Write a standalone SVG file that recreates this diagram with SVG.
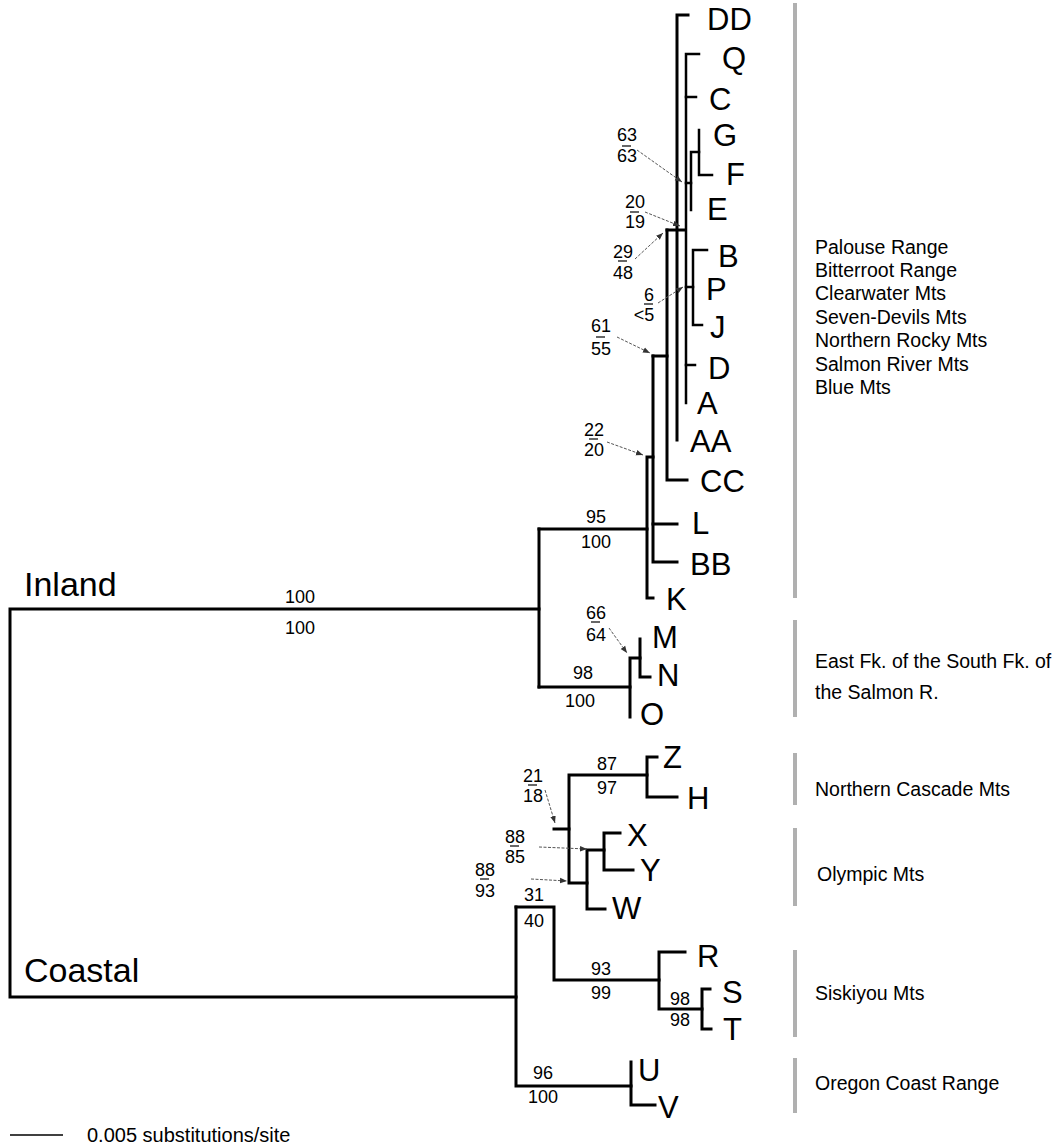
<svg xmlns="http://www.w3.org/2000/svg" width="1057" height="1147" viewBox="0 0 1057 1147">
<defs>
<style>
.br{stroke:#000;stroke-width:3;fill:none;stroke-linecap:square}
.fn{stroke-width:2.5}
.t{font-family:"Liberation Sans",Arial,sans-serif;fill:#000}
.lf{font-size:31px}
.big{font-size:34px}
.bs{font-size:18px;text-anchor:middle}
.rg{font-size:19.5px}
.fb{stroke:#000;stroke-width:1.2}
.ar{stroke:#555;stroke-width:1;stroke-dasharray:3 1.5;fill:none;marker-end:url(#ah)}
.gb{fill:#b0b0b0}
</style>
<marker id="ah" viewBox="0 0 10 10" refX="10" refY="5" markerWidth="7" markerHeight="7" markerUnits="userSpaceOnUse" orient="auto">
<path d="M0,1 L10,5 L0,9 z" fill="#333"/>
</marker>
</defs>
<rect width="1057" height="1147" fill="#fff"/>

<g id="connectors">
<path class="br" d="M539,609 H10 V997 H516"/>
<path class="br" d="M539,529 V687"/>
<path class="br" d="M539,529 H647"/>
<path class="br" d="M539,687 H630"/>
<path class="br" d="M653,457 H647 V598 H653"/>
<path class="br" d="M653,356 V562 H677"/>
<path class="br" d="M653,524 H677"/>
<path class="br" d="M653,356 H667"/>
<path class="br" d="M667,230 V480 H687"/>
<path class="br" d="M667,230 H685"/>
<path class="br" d="M688,15 H677 V440"/>
<path class="br fn" d="M699,54 H686 V403"/>
<path class="br fn" d="M686,97 H696"/>
<path class="br fn" d="M686,365 H695"/>
<path class="br fn" d="M686,287 H693"/>
<path class="br fn" d="M707,250 H693 V325 H702"/>
<path class="br fn" d="M686,183 H691"/>
<path class="br fn" d="M691,210 V152 H699"/>
<path class="br fn" d="M699,130 V175 H712"/>
<path class="br" d="M630,717 V658 H640"/>
<path class="br" d="M640,639 V677 H650"/>
<path class="br" d="M516,907 V1086 H631"/>
<path class="br" d="M516,907 H554 V980 H659"/>
<path class="br" d="M554,829 H569"/>
<path class="br" d="M647,775 H569 V883 H587"/>
<path class="br" d="M657,757 H647 V797 H677"/>
<path class="br" d="M604,850 H587 V909 H605"/>
<path class="br" d="M620,833 H604 V870 H633"/>
<path class="br" d="M685,952 H659 V1009 H702"/>
<path class="br" d="M710,989 H702 V1029 H711"/>
<path class="br" d="M631,1062 V1105 H655"/>
<line class="ar" x1="637" y1="150" x2="682" y2="182"/>
<line class="ar" x1="645" y1="212" x2="680" y2="226"/>
<line class="ar" x1="635" y1="259" x2="663" y2="233"/>
<line class="ar" x1="658" y1="303" x2="683" y2="287"/>
<line class="ar" x1="617" y1="337" x2="650" y2="353"/>
<line class="ar" x1="607" y1="442" x2="643" y2="455"/>
<line class="ar" x1="609" y1="628" x2="627" y2="653"/>
<line class="ar" x1="545" y1="790" x2="555" y2="823"/>
<line class="ar" x1="539" y1="847" x2="587" y2="849"/>
<line class="ar" x1="531" y1="879" x2="567" y2="881"/>
</g>

<g id="leaves" class="t lf">
<g id="leaf-DD"><text x="707" y="30">DD</text></g>
<g id="leaf-Q"><text x="722" y="69">Q</text></g>
<g id="leaf-C"><text x="709" y="110">C</text></g>
<g id="leaf-G"><text x="713" y="146">G</text></g>
<g id="leaf-F"><text x="726" y="185">F</text></g>
<g id="leaf-E"><text x="707" y="220">E</text></g>
<g id="leaf-B"><text x="718" y="267">B</text></g>
<g id="leaf-P"><text x="706" y="300">P</text></g>
<g id="leaf-J"><text x="710" y="338">J</text></g>
<g id="leaf-D"><text x="708" y="379">D</text></g>
<g id="leaf-A"><text x="697" y="414">A</text></g>
<g id="leaf-AA"><text x="690" y="452">AA</text></g>
<g id="leaf-CC"><text x="700" y="492">CC</text></g>
<g id="leaf-L"><text x="692" y="534">L</text></g>
<g id="leaf-BB"><text x="690" y="575">BB</text></g>
<g id="leaf-K"><text x="666" y="610">K</text></g>
<g id="leaf-M"><text x="652" y="648">M</text></g>
<g id="leaf-N"><text x="657" y="686">N</text></g>
<g id="leaf-O"><text x="640" y="725">O</text></g>
<g id="leaf-Z"><text x="663" y="768">Z</text></g>
<g id="leaf-H"><text x="687" y="809">H</text></g>
<g id="leaf-X"><text x="627" y="846">X</text></g>
<g id="leaf-Y"><text x="640" y="881">Y</text></g>
<g id="leaf-W"><text x="612" y="919">W</text></g>
<g id="leaf-R"><text x="697" y="967">R</text></g>
<g id="leaf-S"><text x="722" y="1003">S</text></g>
<g id="leaf-T"><text x="723" y="1040">T</text></g>
<g id="leaf-U"><text x="638" y="1081">U</text></g>
<g id="leaf-V"><text x="658" y="1118">V</text></g>
</g>

<g id="clade-names" class="t big">
<text x="24" y="596">Inland</text>
<text x="24" y="982">Coastal</text>
</g>

<g id="support" class="t bs">
<text x="300" y="603">100</text><text x="300" y="634">100</text>
<text x="596" y="523">95</text><text x="596" y="548">100</text>
<text x="583" y="679">98</text><text x="580" y="707">100</text>
<text x="607" y="770">87</text><text x="607" y="794">97</text>
<text x="534" y="901">31</text><text x="534" y="927">40</text>
<text x="601" y="975">93</text><text x="601" y="999">99</text>
<text x="680" y="1005">98</text><text x="680" y="1026">98</text>
<text x="543" y="1079">96</text><text x="543" y="1103">100</text>
</g>

<g id="fractions" class="t bs">
<g id="f63"><text x="627" y="141">63</text><line class="fb" x1="622" y1="146" x2="631" y2="146"/><text x="627" y="162">63</text></g>
<g id="f20"><text x="635" y="208">20</text><line class="fb" x1="630" y1="212" x2="639" y2="212"/><text x="635" y="228">19</text></g>
<g id="f29"><text x="623" y="258">29</text><line class="fb" x1="618" y1="261" x2="627" y2="261"/><text x="623" y="279">48</text></g>
<g id="f6"><text x="649" y="301">6</text><line class="fb" x1="644" y1="304" x2="653" y2="304"/><text x="644" y="321">&lt;5</text></g>
<g id="f61"><text x="601" y="332">61</text><line class="fb" x1="596" y1="337" x2="605" y2="337"/><text x="601" y="355">55</text></g>
<g id="f22"><text x="594" y="436">22</text><line class="fb" x1="589" y1="439" x2="598" y2="439"/><text x="594" y="456">20</text></g>
<g id="f66"><text x="596" y="619">66</text><line class="fb" x1="591" y1="622" x2="600" y2="622"/><text x="596" y="641">64</text></g>
<g id="f21"><text x="533" y="782">21</text><line class="fb" x1="528" y1="785" x2="537" y2="785"/><text x="533" y="802">18</text></g>
<g id="f88a"><text x="515" y="843">88</text><line class="fb" x1="510" y1="846" x2="519" y2="846"/><text x="515" y="863">85</text></g>
<g id="f88b"><text x="485" y="876">88</text><line class="fb" x1="480" y1="879" x2="489" y2="879"/><text x="485" y="897">93</text></g>
</g>

<g id="region-bars">
<rect class="gb" x="793" y="3" width="4" height="595"/>
<rect class="gb" x="793" y="620" width="4" height="97"/>
<rect class="gb" x="793" y="753" width="4" height="52"/>
<rect class="gb" x="793" y="828" width="4" height="78"/>
<rect class="gb" x="793" y="950" width="4" height="87"/>
<rect class="gb" x="793" y="1058" width="4" height="55"/>
</g>

<g id="regions" class="t rg">
<text x="815" y="254">Palouse Range</text>
<text x="815" y="277">Bitterroot Range</text>
<text x="815" y="300">Clearwater Mts</text>
<text x="815" y="324">Seven-Devils Mts</text>
<text x="815" y="347">Northern Rocky Mts</text>
<text x="815" y="371">Salmon River Mts</text>
<text x="815" y="394">Blue Mts</text>
<text x="815" y="668">East Fk. of the South Fk. of</text>
<text x="815" y="699">the Salmon R.</text>
<text x="815" y="796">Northern Cascade Mts</text>
<text x="817" y="881">Olympic Mts</text>
<text x="815" y="1000">Siskiyou Mts</text>
<text x="815" y="1090">Oregon Coast Range</text>
</g>

<g id="scale">
<line x1="10" y1="1135" x2="63" y2="1135" stroke="#000" stroke-width="1.5"/>
<text class="t" x="87" y="1142" font-size="20">0.005 substitutions/site</text>
</g>
</svg>
